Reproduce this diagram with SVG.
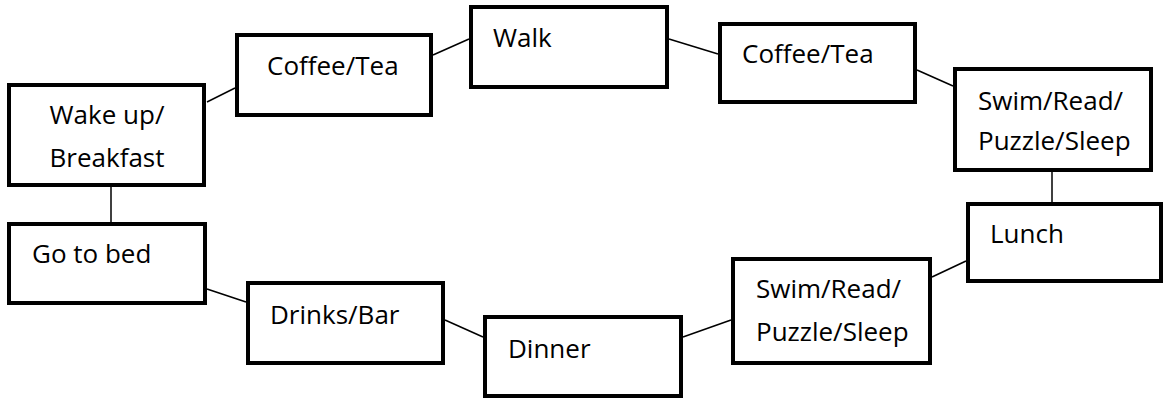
<svg xmlns="http://www.w3.org/2000/svg" width="1165" height="401" viewBox="0 0 1165 401">
  <style>
    .box { fill: #ffffff; stroke: #000000; stroke-width: 4; }
    .lbl { font-family: "Open Sans", "Liberation Sans", sans-serif; font-size: 26px; fill: #000000; }
    .link { stroke: #000000; stroke-width: 1.5; fill: none; }
  </style>
  <rect width="1165" height="401" fill="#ffffff"/>

  <!-- connectors between the daily activities -->
  <g id="connectors">
    <line class="link" x1="207" y1="102" x2="235" y2="88"/>
    <line class="link" x1="433" y1="55" x2="469" y2="39"/>
    <line class="link" x1="669" y1="39" x2="718" y2="54"/>
    <line class="link" x1="917" y1="70" x2="953" y2="86"/>
    <line class="link" x1="1052" y1="172" x2="1052" y2="202"/>
    <line class="link" x1="966" y1="261" x2="932" y2="277"/>
    <line class="link" x1="731" y1="320" x2="683" y2="337"/>
    <line class="link" x1="483" y1="337" x2="445" y2="320"/>
    <line class="link" x1="246" y1="302" x2="207" y2="289"/>
    <line class="link" x1="111" y1="187" x2="111" y2="222"/>
  </g>

  <g id="wake-up">
    <rect class="box" x="9" y="85" width="195" height="100"/>
    <text class="lbl" x="107" y="124" text-anchor="middle">Wake up/</text>
    <text class="lbl" x="107" y="167" text-anchor="middle">Breakfast</text>
  </g>
  <g id="coffee-1">
    <rect class="box" x="237" y="35" width="194" height="80"/>
    <text class="lbl" x="267" y="75">Coffee/Tea</text>
  </g>
  <g id="walk">
    <rect class="box" x="471" y="7" width="196" height="80"/>
    <text class="lbl" x="493" y="47">Walk</text>
  </g>
  <g id="coffee-2">
    <rect class="box" x="720" y="24" width="195" height="78"/>
    <text class="lbl" x="742" y="63">Coffee/Tea</text>
  </g>
  <g id="leisure-1">
    <rect class="box" x="955" y="69" width="196" height="101"/>
    <text class="lbl" x="978" y="110">Swim/Read/</text>
    <text class="lbl" x="978" y="150">Puzzle/Sleep</text>
  </g>
  <g id="lunch">
    <rect class="box" x="968" y="204" width="193" height="77"/>
    <text class="lbl" x="990" y="243">Lunch</text>
  </g>
  <g id="leisure-2">
    <rect class="box" x="733" y="259" width="197" height="104"/>
    <text class="lbl" x="756" y="298">Swim/Read/</text>
    <text class="lbl" x="756" y="341">Puzzle/Sleep</text>
  </g>
  <g id="dinner">
    <rect class="box" x="485" y="317" width="196" height="79"/>
    <text class="lbl" x="508" y="358">Dinner</text>
  </g>
  <g id="drinks">
    <rect class="box" x="248" y="283" width="195" height="80"/>
    <text class="lbl" x="270" y="324">Drinks/Bar</text>
  </g>
  <g id="go-to-bed">
    <rect class="box" x="9" y="224" width="196" height="79"/>
    <text class="lbl" x="32" y="263">Go to bed</text>
  </g>
</svg>
